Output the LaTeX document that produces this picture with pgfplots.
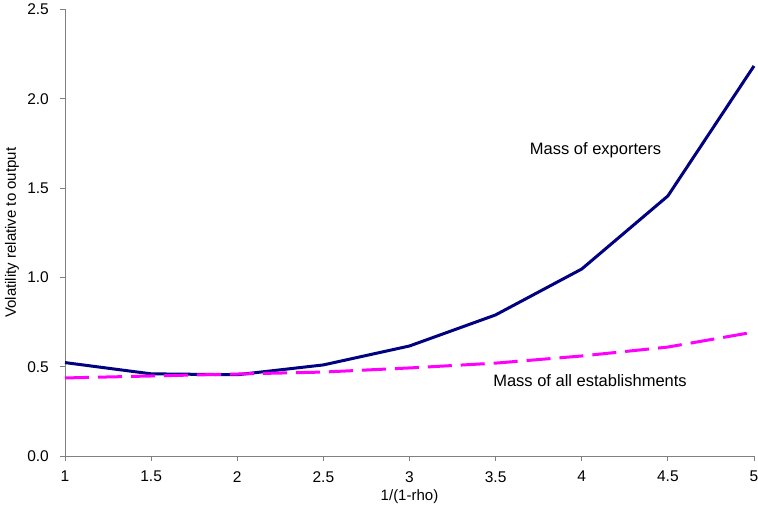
\documentclass[border=0pt]{standalone}
\usepackage{fontspec}
\setmainfont{Liberation Sans}
\usepackage{pgfplots}
\pgfplotsset{compat=1.18}
\definecolor{navyline}{RGB}{0,0,128}
\definecolor{magline}{RGB}{255,0,255}
\definecolor{axgray}{RGB}{128,128,128}
\begin{document}
\fontsize{15bp}{18bp}\selectfont
\begin{tikzpicture}
\begin{axis}[
  scale only axis,
  width=689bp, height=446.5bp,
  at={(0,0)}, anchor=south west,
  xmin=1, xmax=5, ymin=0, ymax=2.5,
  xtick={1,1.5,...,5},
  ytick={0,0.5,...,2.5},
  axis x line*=bottom, axis y line*=left,
  axis line style={axgray, line width=0.9bp, -},
  tick style={axgray, line width=0.9bp},
  tick align=outside,
  major tick length=5bp,
  /pgf/number format/assume math mode=true,
  yticklabel style={/pgf/number format/fixed, /pgf/number format/fixed zerofill, /pgf/number format/precision=1, xshift=-6bp},
  xticklabel style={yshift=-5bp},
  xlabel={1/(1-rho)},
  ylabel={Volatility relative to output},
  xlabel style={at={(axis description cs:0.5,0)}, anchor=center, yshift=-41bp},
  ylabel style={at={(axis description cs:0,0.5)}, anchor=center, yshift=53bp},
  ticklabel style={font=\fontsize{15.5bp}{18bp}\selectfont},
  label style={font=\fontsize{15bp}{18bp}\selectfont},
  clip=false,
]
\addplot[color=navyline, line width=3bp, line join=round] coordinates {
  (1,0.523) (1.5,0.46) (2,0.455) (2.5,0.51) (3,0.616) (3.5,0.79) (4,1.047) (4.5,1.456) (5,2.184)
};
\addplot[color=magline, line width=3bp, dash pattern=on 24bp off 9bp] coordinates {
  (1,0.437) (1.5,0.448) (2,0.459) (2.5,0.47) (3,0.493) (3.5,0.52) (4,0.56) (4.5,0.61) (5,0.694)
};
\node[font=\fontsize{16.5bp}{19bp}\selectfont] at (axis cs:4.08,1.713) {Mass of exporters};
\node[font=\fontsize{16.5bp}{19bp}\selectfont] at (axis cs:4.048,0.42) {Mass of all establishments};
\end{axis}
\pgfresetboundingbox
\path[use as bounding box] (-65bp,-60bp) rectangle (693bp,456bp);
\end{tikzpicture}
\end{document}
